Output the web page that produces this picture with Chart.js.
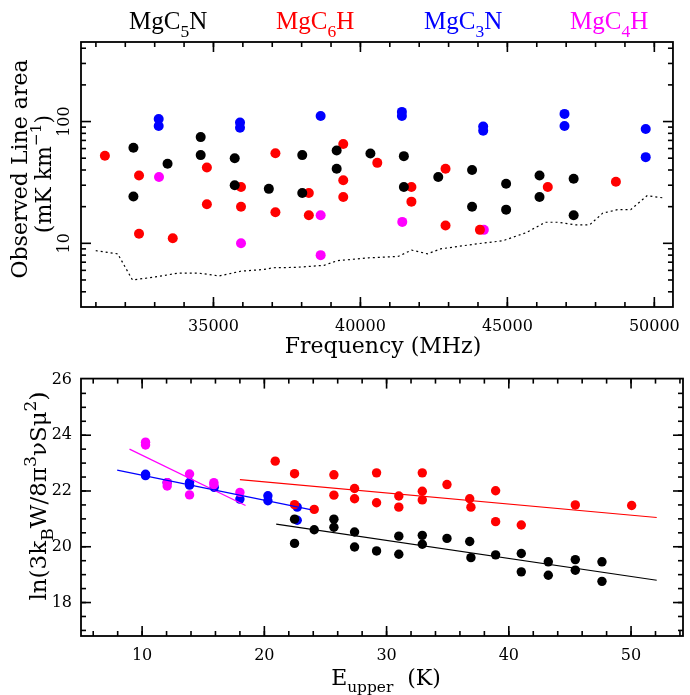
<!DOCTYPE html>
<html><head><meta charset="utf-8">
<script src="https://cdn.jsdelivr.net/npm/chart.js@4.4.1/dist/chart.umd.min.js"></script>
<style>
html,body{margin:0;padding:0;background:#fff;}
#wrap{position:relative;width:690px;height:695px;overflow:hidden;}
#c1{position:absolute;left:0;top:0;width:690px;height:360px;}
#c2{position:absolute;left:0;top:360px;width:690px;height:335px;}
</style></head><body>
<div id="wrap"><canvas id="c1" width="690" height="360"></canvas><canvas id="c2" width="690" height="335"></canvas></div>
<script>
// ---------- legend / species ----------
const speciesNames = ['MgC5N', 'MgC6H', 'MgC3N', 'MgC4H'];
const speciesColors = ['#000000', '#ff0000', '#0000ff', '#ff00ff'];

// ---------- top panel: observed line areas ----------
const c5nFreq = [32277,32277,33438,34565,34565,35723,35723,36884,38021,38021,39192,39192,40340,41478,41478,42648,43799,43799,44957,44957,46094,46094,47255,47255];
const c5nArea = [61,24.2,45,74.5,53,50,30,28,53,25.9,57.8,41,54.7,52,29,35,40,20,30.8,18.9,36,24,33.9,17];
const c6hFreq = [31306,32467,32467,33615,34776,34776,35937,35937,37108,37108,38245,38245,39416,39416,39416,40574,41735,41735,42896,42896,44066,46375,48693];
const c6hArea = [52.4,36,12,11,42,20.9,29,20,55,18,25.9,17,65.3,33,24,45.8,29,22,41,14,12.9,29,32];
const c3nFreq = [33136,33136,35903,35903,38647,41411,41411,44177,44177,46944,46944,49707,49707];
const c3nArea = [105,92,98,89,111,120,111,91,84,115.6,92,87,51];
const c4hFreq = [33147,35937,38647,38647,41424,44200];
const c4hArea = [35,10,17,8,15,12.9];
const noiseFreq = [30995,31741,32244,33026,33806,34475,35201,35923,36706,37040,37820,38767,39215,40273,41277,41745,42280,42728,43953,44846,45627,46295,46741,47299,47800,48248,48750,49195,49754,50310];
const noiseArea = [8.7,8.2,5.0,5.3,5.7,5.7,5.4,5.9,6.1,6.3,6.35,6.6,7.2,7.6,7.8,8.8,8.2,9.0,9.9,10.5,12.2,14.9,14.9,14.2,14.2,17.7,18.9,18.9,24.6,23.6];
const freqTicks = [35000, 40000, 45000, 50000];
const areaTicks = [10, 100];

// ---------- bottom panel: rotation diagram ----------
const c5nE  = [22.47,22.47,24.08,25.69,25.69,27.38,27.38,29.18,31.0,31.0,32.92,32.92,34.94,36.8,36.9,38.92,41.02,41.02,43.23,43.23,45.44,45.44,47.62,47.62];
const c5nLn = [20.99,20.12,20.61,20.99,20.70,20.53,19.99,19.85,20.38,19.73,20.41,20.09,20.30,20.19,19.61,19.71,19.76,19.10,19.46,18.98,19.54,19.16,19.46,18.76];
const c6hE  = [20.89,22.47,22.47,24.08,25.69,25.69,27.38,27.38,29.18,29.18,31.0,31.0,32.92,32.92,32.92,34.94,36.8,36.9,38.92,38.92,41.02,45.44,50.05];
const c6hLn = [23.07,22.62,21.51,21.34,22.58,21.85,22.09,21.72,22.65,21.58,21.82,21.42,22.65,21.99,21.68,22.23,21.72,21.42,22.01,20.90,20.78,21.50,21.48];
const c3nE  = [10.28,10.28,12.05,13.88,13.88,15.9,18.0,20.29,20.29,22.69,22.69];
const c3nLn = [22.60,22.55,22.30,22.31,22.21,22.13,21.71,21.83,21.65,21.42,20.95];
const c4hE  = [10.28,10.28,12.05,12.05,13.88,13.88,15.87,15.87,18.0];
const c4hLn = [23.75,23.65,22.30,22.18,22.61,21.86,22.30,22.23,21.95];
const fitC5nE = [20.97, 52.1], fitC5nLn = [20.81, 18.80];
const fitC6hE = [18.0, 52.1],  fitC6hLn = [22.41, 21.05];
const fitC3nE = [7.96, 23.78], fitC3nLn = [22.75, 21.33];
const fitC4hE = [8.97, 18.46], fitC4hLn = [23.50, 21.48];
const eTicks = [10, 20, 30, 40, 50];
const lnTicks = [18, 20, 22, 24, 26];

// ---------- helpers ----------
const zip = (xs, ys) => xs.map((x, i) => ({x, y: ys[i]}));
const SERIF = '"DejaVu Serif", serif';
const LEG = '"Liberation Serif", "DejaVu Serif", serif';

function rich(ctx, parts, x, y, size, family, align, scale) {
  const sc = scale || 0.7;
  const fs = m => (m ? size * sc : size);
  let w = 0;
  parts.forEach(([t, m]) => { ctx.font = fs(m) + 'px ' + family; w += ctx.measureText(t).width; });
  let cx = align === 'center' ? x - w / 2 : align === 'right' ? x - w : x;
  ctx.textAlign = 'left'; ctx.textBaseline = 'alphabetic';
  parts.forEach(([t, m]) => {
    ctx.font = fs(m) + 'px ' + family;
    const dy = m === 1 ? size * 0.3 : m === 2 ? -size * 0.45 : 0;
    ctx.fillText(t, cx, y + dy);
    cx += ctx.measureText(t).width;
  });
}
function richRot(ctx, parts, x, y, size, family, scale) {
  ctx.save(); ctx.translate(x, y); ctx.rotate(-Math.PI / 2);
  rich(ctx, parts, 0, 0, size, family, 'center', scale);
  ctx.restore();
}
function drawFrame(chart, xMaj, xMin, yMaj, yMin) {
  const ctx = chart.ctx, a = chart.chartArea, X = chart.scales.x, Y = chart.scales.y;
  const l = a.left, r = a.right, t = a.top, b = a.bottom;
  ctx.save();
  ctx.setLineDash([]);
  ctx.strokeStyle = '#000';
  ctx.lineWidth = 1.6;
  ctx.lineCap = 'butt';
  const L = 10, S = 5;
  const line = (x1, y1, x2, y2) => { ctx.beginPath(); ctx.moveTo(x1, y1); ctx.lineTo(x2, y2); ctx.stroke(); };
  const xs = [], ys = [];
  xMin.forEach(v => xs.push([X.getPixelForValue(v), S]));
  xMaj.forEach(v => xs.push([X.getPixelForValue(v), L]));
  yMin.forEach(v => ys.push([Y.getPixelForValue(v), S]));
  yMaj.forEach(v => ys.push([Y.getPixelForValue(v), L]));
  xs.forEach(([p, len]) => {
    if (p > l + 1 && p < r - 1) { line(p, b, p, b - len); line(p, t, p, t + len); }
  });
  ys.forEach(([p, len]) => {
    if (p > t + 1 && p < b - 1) { line(l, p, l + len, p); line(r, p, r - len, p); }
  });
  ctx.lineWidth = 1.8;
  ctx.strokeRect(l, t, r - l, b - t);
  ctx.restore();
}
const fixedAxis = (w) => s => { if (s.isHorizontal()) s.height = w; else s.width = w; };

// minor tick positions
const freqMinor = []; for (let f = 30000; f <= 51000; f += 1000) freqMinor.push(f);
const areaMinor = []; [1, 10, 100].forEach(d => { for (let k = 2; k <= 9; k++) areaMinor.push(k * d); });
const eMinor = []; for (let e = 2; e <= 56; e += 2) eMinor.push(e);
const lnMinor = []; for (let v = 16; v <= 26.5; v += 0.5) lnMinor.push(v);

const legendParts = [
  [['MgC', 0], ['5', 1], ['N', 0]],
  [['MgC', 0], ['6', 1], ['H', 0]],
  [['MgC', 0], ['3', 1], ['N', 0]],
  [['MgC', 0], ['4', 1], ['H', 0]]
];
const legendX = [129, 276, 424, 570];

const topPlugin = {
  id: 'topDeco',
  afterDatasetsDraw(chart) {
    drawFrame(chart, freqTicks, freqMinor, areaTicks, areaMinor);
  },
  afterDraw(chart) {
    const ctx = chart.ctx, Y = chart.scales.y;
    ctx.save();
    ctx.fillStyle = '#000';
    areaTicks.forEach(v => { richRot(ctx, [[String(v), 0]], 69, Y.getPixelForValue(v), 16, SERIF); });
    rich(ctx, [['Frequency (MHz)', 0]], 383, 353, 22, SERIF, 'center');
    richRot(ctx, [['Observed Line area', 0]], 27, 169, 22, SERIF);
    richRot(ctx, [['(mK km', 0], ['\u22121', 2], [')', 0]], 51, 174, 22, SERIF);
    legendParts.forEach((p, i) => { ctx.fillStyle = speciesColors[i]; rich(ctx, p, legendX[i], 29, 25, LEG, 'left'); });
    ctx.restore();
  }
};
const botPlugin = {
  id: 'botDeco',
  afterDatasetsDraw(chart) {
    drawFrame(chart, eTicks, eMinor, lnTicks, lnMinor);
  },
  afterDraw(chart) {
    const ctx = chart.ctx;
    ctx.save();
    ctx.fillStyle = '#000';
    rich(ctx, [['E', 0], ['upper', 1], ['  (K)', 0]], 386, 685 - 360, 22, SERIF, 'center');
    richRot(ctx, [['ln(3k', 0], ['B', 1], ['W/8\u03C0', 0], ['3', 2], ['\u03BDS\u03BC', 0], ['2', 2], [')', 0]], 46, 496 - 360, 23, SERIF, 0.75);
    ctx.restore();
  }
};

const pt = (label, data, color, r) => ({ label, data, type: 'scatter', backgroundColor: color, borderColor: color, pointRadius: r, pointHoverRadius: r, pointBorderWidth: 0, showLine: false });
const fit = (label, data, color) => ({ label, data, type: 'scatter', showLine: true, borderColor: color, borderWidth: 1.2, pointRadius: 0, fill: false });

const common = {
  responsive: false, animation: false, events: [],
  plugins: { legend: { display: false }, tooltip: { enabled: false } }
};

new Chart(document.getElementById('c1'), {
  type: 'scatter',
  data: { datasets: [
    { label: 'noise', data: zip(noiseFreq, noiseArea), type: 'scatter', showLine: true, borderColor: '#000', borderWidth: 1.2, borderDash: [2, 3], pointRadius: 0 },
    pt(speciesNames[0], zip(c5nFreq, c5nArea), speciesColors[0], 5),
    pt(speciesNames[1], zip(c6hFreq, c6hArea), speciesColors[1], 5),
    pt(speciesNames[2], zip(c3nFreq, c3nArea), speciesColors[2], 5),
    pt(speciesNames[3], zip(c4hFreq, c4hArea), speciesColors[3], 5)
  ]},
  options: Object.assign({}, common, {
    layout: { padding: { left: 0, right: 7, top: 42, bottom: 0 } },
    scales: {
      x: { type: 'linear', min: 30493, max: 50634,
        afterBuildTicks: s => { s.ticks = freqTicks.map(v => ({ value: v })); },
        afterFit: fixedAxis(53),
        ticks: { autoSkip: false, maxRotation: 0, padding: 10, color: '#000', font: { family: SERIF, size: 16 }, callback: v => String(v) },
        grid: { display: false, drawTicks: false }, border: { display: false } },
      y: { type: 'logarithmic', min: 3, max: 450,
        afterFit: fixedAxis(81),
        ticks: { display: false },
        grid: { display: false, drawTicks: false }, border: { display: false } }
    }
  }),
  plugins: [topPlugin]
});

new Chart(document.getElementById('c2'), {
  type: 'scatter',
  data: { datasets: [
    fit('fit ' + speciesNames[0], zip(fitC5nE, fitC5nLn), speciesColors[0]),
    fit('fit ' + speciesNames[1], zip(fitC6hE, fitC6hLn), speciesColors[1]),
    fit('fit ' + speciesNames[2], zip(fitC3nE, fitC3nLn), speciesColors[2]),
    fit('fit ' + speciesNames[3], zip(fitC4hE, fitC4hLn), speciesColors[3]),
    pt(speciesNames[0], zip(c5nE, c5nLn), speciesColors[0], 4.7),
    pt(speciesNames[1], zip(c6hE, c6hLn), speciesColors[1], 4.7),
    pt(speciesNames[3], zip(c4hE, c4hLn), speciesColors[3], 4.7),
    pt(speciesNames[2], zip(c3nE, c3nLn), speciesColors[2], 4.7)
  ]},
  options: Object.assign({}, common, {
    layout: { padding: { left: 0, right: 7, top: 10, bottom: 0 } },
    scales: {
      x: { type: 'linear', min: 5, max: 54.25,
        afterBuildTicks: s => { s.ticks = eTicks.map(v => ({ value: v })); },
        afterFit: fixedAxis(59),
        ticks: { autoSkip: false, maxRotation: 0, padding: 10, color: '#000', font: { family: SERIF, size: 16 }, callback: v => String(v) },
        grid: { display: false, drawTicks: false }, border: { display: false } },
      y: { type: 'linear', min: 16.8, max: 26.03,
        afterBuildTicks: s => { s.ticks = lnTicks.map(v => ({ value: v })); },
        afterFit: fixedAxis(81),
        ticks: { autoSkip: false, padding: 9, color: '#000', font: { family: SERIF, size: 16 }, callback: v => String(v) },
        grid: { display: false, drawTicks: false }, border: { display: false } }
    }
  }),
  plugins: [botPlugin]
});
</script>
</body></html>
